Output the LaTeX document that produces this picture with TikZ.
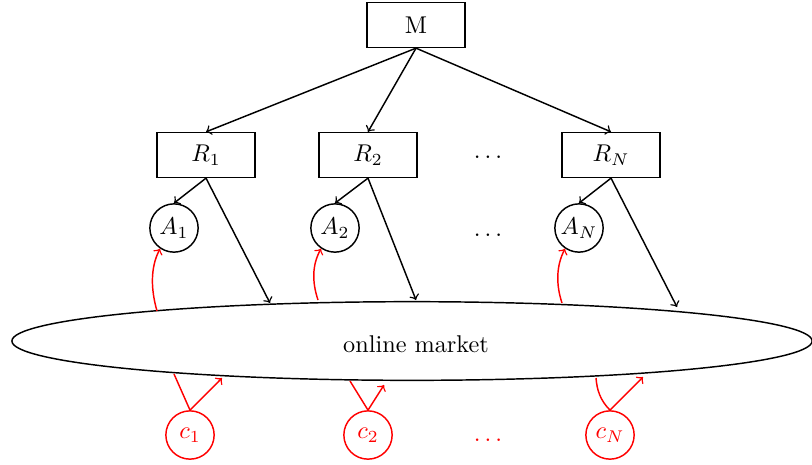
\documentclass[tikz,border=0pt]{standalone}
\usetikzlibrary{shapes.geometric}
\begin{document}
\begin{tikzpicture}[%%
  x=0.0145cm,y=-0.0145cm,%%
  boxStyle/.style={draw,semithick,minimum width=1.42cm,minimum height=0.65cm,inner sep=0pt},%%
  agentStyle/.style={draw,semithick,circle,minimum size=0.7cm,inner sep=0pt},%%
  clientStyle/.style={agentStyle,red},%%
  lineStyle/.style={->,semithick},%%
  redStyle/.style={semithick,red},%%
]
%%
%%
\useasboundingbox (0,0) rectangle (812,464);
%% The manufacturer and the retailers.
\node[boxStyle] (M) at (416,25) {M};
\node[boxStyle] (R1) at (206,155) {$R_1$};
\node[boxStyle] (R2) at (368,155) {$R_2$};
\node[boxStyle] (RN) at (611,155) {$R_N$};
\node (dotsR) at (488,157) {$\dots$};
%% The agents.
\node[agentStyle] (A1) at (174,228) {$A_1$};
\node[agentStyle] (A2) at (335,228) {$A_2$};
\node[agentStyle] (AN) at (579,228) {$A_N$};
\node (dotsA) at (488,235) {$\dots$};
%% The market.
\node[draw,semithick,ellipse,minimum width=11.6cm,minimum height=1.14cm,inner sep=0pt] (market) at (412,341) {};
\node (marketText) at (416,344) {online market};
%% The clients.
\node[clientStyle] (c1) at (190,435) {$c_1$};
\node[clientStyle] (c2) at (368,435) {$c_2$};
\node[clientStyle] (cN) at (610,435) {$c_N$};
\node[red] (dotsC) at (488,440) {$\dots$};
%% Points on the border of the market.
\coordinate (m1) at (270,303);
\coordinate (m2) at (416,300);
\coordinate (mN) at (677,307);
\coordinate (a1) at (157,311);
\coordinate (a2) at (318,300);
\coordinate (aN) at (562,303);
\coordinate (b1) at (174,374);
\coordinate (b2) at (350,381);
\coordinate (bN) at (596,378);
\coordinate (d1) at (222,378);
\coordinate (d2) at (384,385);
\coordinate (dN) at (643,377);
%%
%%
%% Arrows from the top down.
\draw[lineStyle] (M.south) -- (R1.north);
\draw[lineStyle] (M.south) -- (R2.north);
\draw[lineStyle] (M.south) -- (RN.north);
\draw[lineStyle] (R1.south) -- (A1.north);
\draw[lineStyle] (R2.south) -- (A2.north);
\draw[lineStyle] (RN.south) -- (AN.north);
\draw[lineStyle] (R1.south) -- (m1);
\draw[lineStyle] (R2.south) -- (m2);
\draw[lineStyle] (RN.south) -- (mN);
%% Red links.
\draw[redStyle,->] (a1) .. controls (151,290) and (150,268) .. (A1.236);
\draw[redStyle,->] (a2) .. controls (312,282) and (312,265) .. (A2.236);
\draw[redStyle,->] (aN) .. controls (556,285) and (556,266) .. (AN.236);
\draw[redStyle] (c1.north) -- (b1);
\draw[redStyle] (c2.north) -- (b2);
\draw[redStyle] (cN.north) .. controls (600,400) and (597,390) .. (bN);
\draw[redStyle,->] (c1.north) -- (d1);
\draw[redStyle,->] (c2.north) -- (d2);
\draw[redStyle,->] (cN.north) -- (dN);
\end{tikzpicture}
\end{document}
